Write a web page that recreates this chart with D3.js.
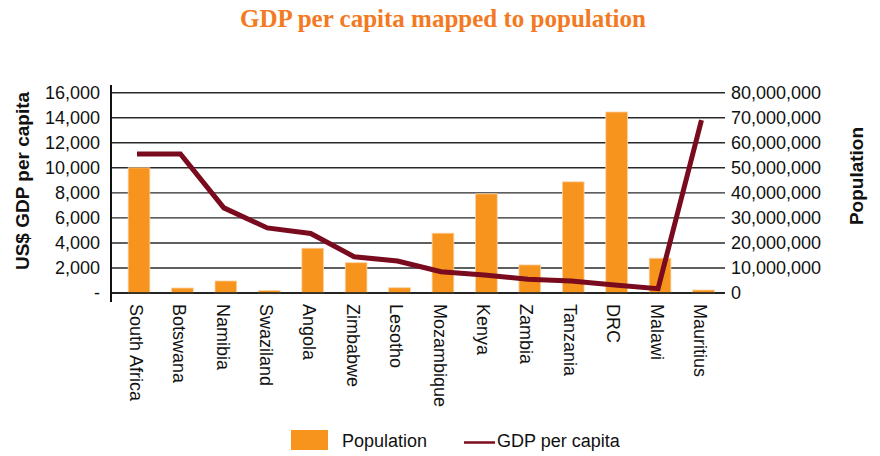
<!DOCTYPE html>
<html>
<head>
<meta charset="utf-8">
<script src="https://cdn.jsdelivr.net/npm/d3@7"></script>
<style>
  html, body { margin: 0; padding: 0; background: #fff; }
  svg { display: block; }
  text { font-family: "Liberation Sans", Arial, sans-serif; fill: #111; }
</style>
</head>
<body>
<svg id="chart" width="880" height="456"></svg>
<script>
// Countries shown along the category axis
const countries = ["South Africa", "Botswana", "Namibia", "Swaziland", "Angola", "Zimbabwe",
  "Lesotho", "Mozambique", "Kenya", "Zambia", "Tanzania", "DRC", "Malawi", "Mauritius"];

// Population (right axis)
const population = [50000000, 2000000, 4800000, 1000000, 17900000, 12100000,
  2100000, 23900000, 39600000, 11200000, 44400000, 72300000, 13900000, 1200000];

// GDP per capita, US$ (left axis)
const gdpPerCapita = [11100, 11100, 6800, 5200, 4750, 2900,
  2550, 1700, 1440, 1090, 960, 640, 350, 13800];

// Axis ticks
const gdpTicks = [0, 2000, 4000, 6000, 8000, 10000, 12000, 14000, 16000];
const popTicks = [0, 10000000, 20000000, 30000000, 40000000, 50000000, 60000000, 70000000, 80000000];

const title = "GDP per capita mapped to population";
const leftTitle = "US$ GDP per capita";
const rightTitle = "Population";
const legendLabels = ["Population", "GDP per capita"];

const ORANGE = "#F7941E";
const MAROON = "#7A0A1E";

const svg = d3.select("#chart");

const plot = { left: 111, right: 725, top: 92.7, bottom: 293 };

const x = d3.scaleBand()
  .domain(countries)
  .range([117.3, 725.2])
  .paddingInner(0.5)
  .paddingOuter(0.25);

const yLeft = d3.scaleLinear().domain([0, 16000]).range([plot.bottom, plot.top]);
const yRight = d3.scaleLinear().domain([0, 80000000]).range([plot.bottom, plot.top]);

// Title
svg.append("text")
  .attr("x", 443).attr("y", 27)
  .attr("text-anchor", "middle")
  .style("font-family", "'Liberation Serif', 'Times New Roman', serif")
  .style("font-weight", "bold")
  .style("font-size", "25px")
  .style("fill", "#F37A22")
  .text(title);

// Horizontal gridlines
svg.append("g")
  .selectAll("line")
  .data(gdpTicks)
  .join("line")
  .attr("x1", plot.left).attr("x2", plot.right)
  .attr("y1", d => yLeft(d)).attr("y2", d => yLeft(d))
  .attr("stroke", "#2a2a2a")
  .attr("stroke-width", 1.4);

// Left axis labels
const fmt = d3.format(",");
svg.append("g")
  .attr("transform", `translate(${plot.left},0)`)
  .call(d3.axisLeft(yLeft).tickValues(gdpTicks).tickSize(0).tickPadding(11)
    .tickFormat(d => d === 0 ? "-" : fmt(d)))
  .call(g => g.select(".domain").remove())
  .call(g => g.selectAll("text")
    .style("font-size", "18px")
    .style("font-family", "'Liberation Sans', Arial, sans-serif")
    .attr("fill", "#111"));

// Right axis labels
svg.append("g")
  .attr("transform", `translate(${plot.right},0)`)
  .call(d3.axisRight(yRight).tickValues(popTicks).tickSize(0).tickPadding(6)
    .tickFormat(d => fmt(d)))
  .call(g => g.select(".domain").remove())
  .call(g => g.selectAll("text")
    .style("font-size", "18px")
    .style("font-family", "'Liberation Sans', Arial, sans-serif")
    .attr("fill", "#111"));

// Population bars
svg.append("g")
  .selectAll("rect")
  .data(countries)
  .join("rect")
  .attr("x", d => x(d))
  .attr("width", x.bandwidth())
  .attr("y", (d, i) => yRight(population[i]))
  .attr("height", (d, i) => plot.bottom - yRight(population[i]))
  .attr("fill", ORANGE)
  .attr("stroke", "#FBD3A6")
  .attr("stroke-width", 0.8);

// Left axis line
svg.append("line")
  .attr("x1", plot.left).attr("x2", plot.left)
  .attr("y1", 85).attr("y2", 302)
  .attr("stroke", "#111").attr("stroke-width", 2);

// Bottom axis line
svg.append("line")
  .attr("x1", plot.left).attr("x2", plot.right)
  .attr("y1", plot.bottom).attr("y2", plot.bottom)
  .attr("stroke", "#111").attr("stroke-width", 1.4);

// GDP per capita line
const line = d3.line()
  .x((d, i) => x(countries[i]) + x.bandwidth() / 2 - 2)
  .y(d => yLeft(d));

svg.append("path")
  .datum(gdpPerCapita)
  .attr("d", line)
  .attr("fill", "none")
  .attr("stroke", MAROON)
  .attr("stroke-width", 5)
  .attr("stroke-linejoin", "miter");

// Category labels, rotated to read downward
svg.append("g")
  .selectAll("text")
  .data(countries)
  .join("text")
  .attr("transform", d => `translate(${x(d) + x.bandwidth() / 2 - 3},304) rotate(90)`)
  .attr("dy", "0.35em")
  .style("font-size", "18px")
  .text(d => d);

// Axis titles
svg.append("text")
  .attr("transform", "translate(22,181) rotate(-90)")
  .attr("text-anchor", "middle")
  .attr("dy", "0.35em")
  .style("font-size", "19px")
  .style("font-weight", "bold")
  .text(leftTitle);

svg.append("text")
  .attr("transform", "translate(856,176) rotate(-90)")
  .attr("text-anchor", "middle")
  .attr("dy", "0.35em")
  .style("font-size", "19px")
  .style("font-weight", "bold")
  .text(rightTitle);

// Legend
const legend = svg.append("g");
legend.append("rect")
  .attr("x", 291).attr("y", 430).attr("width", 37).attr("height", 20)
  .attr("fill", ORANGE);
legend.append("text")
  .attr("x", 342).attr("y", 441).attr("dy", "0.35em")
  .style("font-size", "18px")
  .text(legendLabels[0]);
legend.append("line")
  .attr("x1", 464).attr("x2", 495).attr("y1", 442.5).attr("y2", 442.5)
  .attr("stroke", MAROON).attr("stroke-width", 2.5);
legend.append("text")
  .attr("x", 497).attr("y", 441).attr("dy", "0.35em")
  .style("font-size", "18px")
  .text(legendLabels[1]);
</script>
</body>
</html>
